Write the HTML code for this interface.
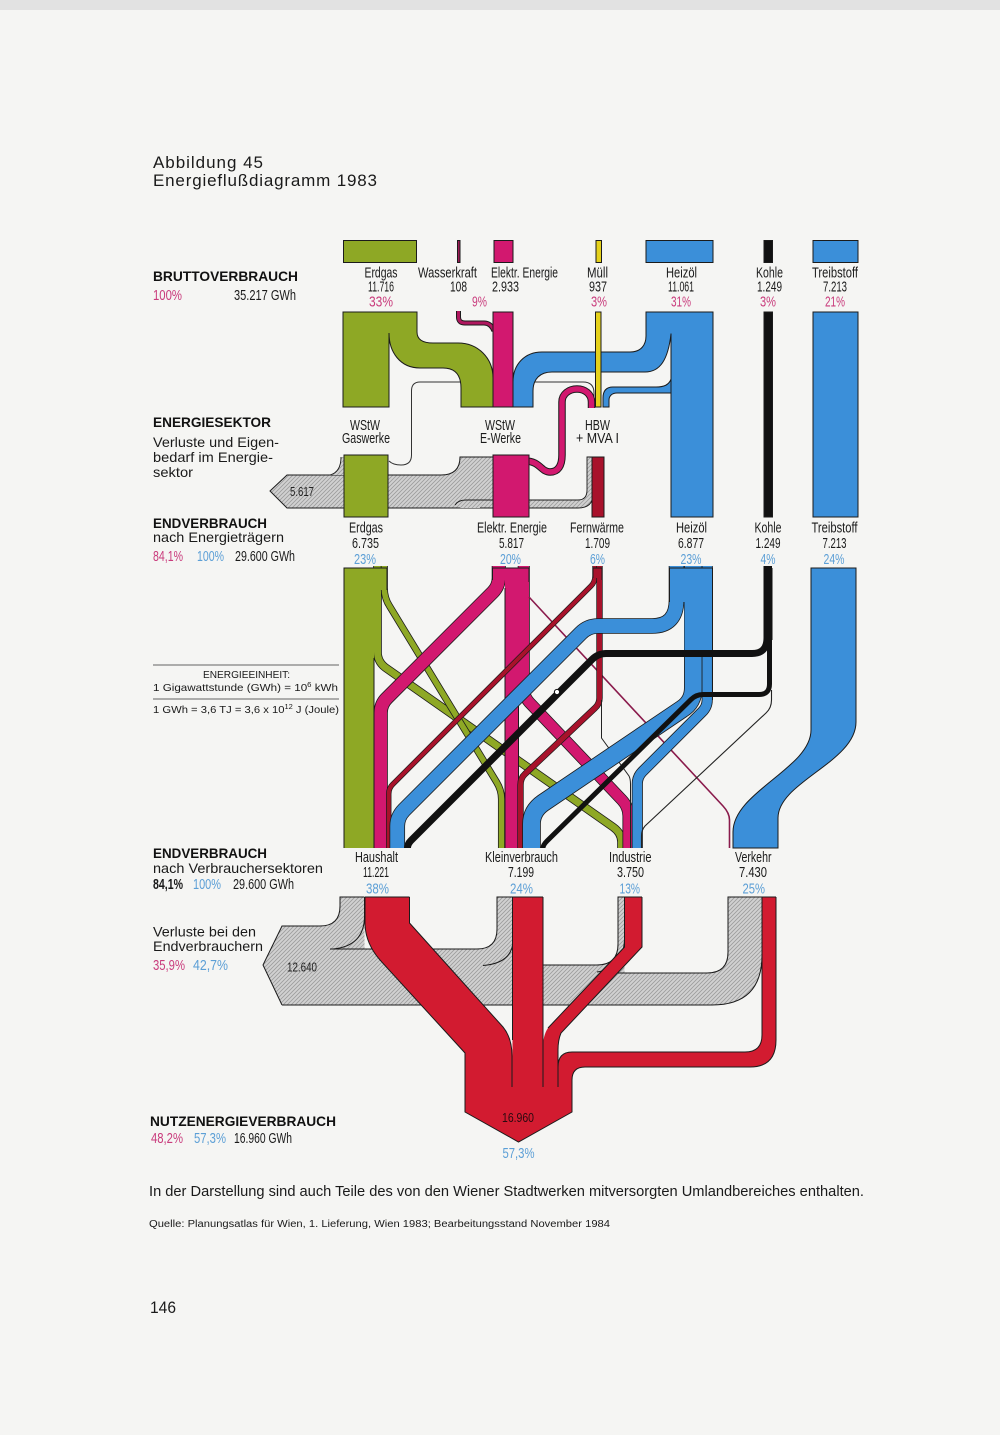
<!DOCTYPE html>
<html><head><meta charset="utf-8"><style>
html,body{margin:0;padding:0;background:#f5f5f3;}
svg{display:block;}
.t{font-family:"Liberation Sans Narrow","Liberation Sans",Arial,sans-serif;font-size:14.5px;fill:#1a1a1a;}
.s{font-family:"Liberation Sans",Arial,sans-serif;font-size:14px;fill:#1a1a1a;}
.b{font-family:"Liberation Sans",Arial,sans-serif;font-weight:bold;font-size:14px;fill:#111;}
.pk{fill:#c93b7c;}
.lb{fill:#5c9fd6;}
</style></head><body>
<svg width="1000" height="1435" viewBox="0 0 1000 1435" xmlns="http://www.w3.org/2000/svg">
<defs>
<pattern id="h" width="4" height="4" patternUnits="userSpaceOnUse"><rect width="4" height="4" fill="#d1d1d1"/><path d="M-1,1 L1,-1 M0,4 L4,0 M3,5 L5,3" stroke="#9c9c9c" stroke-width="0.8"/></pattern>
<path id="gKV" d="M384.3,566 V588 Q384.3,598 389.5,606 L496.5,782 Q501.5,790 501.5,799 V848"/>
<path id="gIn" d="M377.5,566 V652 Q377.5,662 386,668 L613,827 Q621.5,833 621.5,842 V848"/>
<path id="mHa" d="M498.75,566 V578 Q498.75,586 493,592 L387,698 Q380.75,704 380.75,713 V848"/>
<path id="mIn" d="M523.75,566 V688 Q523.75,696 529,702 L622,800 Q628.5,807 628.5,816 V848"/>
<path id="rHa" d="M595,566 V576 Q595,582 591,586 L393,784 Q388.75,788 388.75,794 V848"/>
<path id="rKV" d="M599.5,566 V698 Q599.5,704 595,708 L525,774 Q520.5,778 520.5,785 V848"/>
<path id="bHa" d="M676.5,566 V600 Q676.5,626 652,626 H598 Q588,626 581,633 L404,810 Q397.25,817 397.25,826 V848"/>
<path id="bKV" d="M693.3,566 V688 Q693.3,702 682,709 L543,803 Q531.5,811 531.5,824 V848"/>
<path id="bIn" d="M707.2,566 V700 Q707.2,707 702,712 L642,772 Q637.3,777 637.3,784 V848"/>
<path id="kHa" d="M767,566 V638 Q767,653.5 752,653.5 H606 Q598,653.5 592,659.5 L411,840.5 Q407.5,844 407.5,848"/>
<path id="kKV" d="M769.5,566 V684 Q769.5,694.5 759,694.5 H703 Q696,694.5 691,699.5 L547,841 Q543,845 543,848"/>
<path id="wk" d="M458.5,311 V317 Q458.5,323 465,323 H484 Q491,323 494,331"/>
<path id="tube" d="M525,461 C540,461 541,472 550,472 C558,472 562,466 562,455 V402 C562,394 569,389 577,389 C585,389 591.5,394 591.5,402 V408"/>
</defs>

<rect x="0" y="0" width="1000" height="10" fill="#e2e2e2"/>

<!-- Title -->
<text class="s" x="153" y="168" style="font-size:17px" textLength="110">Abbildung 45</text>
<text class="s" x="153" y="186" style="font-size:17px" textLength="224">Energieflußdiagramm 1983</text>

<!-- Left labels -->
<text class="b" x="153" y="281" textLength="145" lengthAdjust="spacingAndGlyphs">BRUTTOVERBRAUCH</text>
<text class="t pk" x="153" y="300" textLength="29" lengthAdjust="spacingAndGlyphs">100%</text>
<text class="t" x="234" y="300" textLength="62" lengthAdjust="spacingAndGlyphs">35.217 GWh</text>

<text class="b" x="153" y="427" textLength="118" lengthAdjust="spacingAndGlyphs">ENERGIESEKTOR</text>
<text class="s" x="153" y="447" textLength="126" lengthAdjust="spacingAndGlyphs">Verluste und Eigen-</text>
<text class="s" x="153" y="462" textLength="120" lengthAdjust="spacingAndGlyphs">bedarf im Energie-</text>
<text class="s" x="153" y="477" textLength="40" lengthAdjust="spacingAndGlyphs">sektor</text>

<text class="b" x="153" y="528" textLength="114" lengthAdjust="spacingAndGlyphs">ENDVERBRAUCH</text>
<text class="s" x="153" y="542" textLength="131" lengthAdjust="spacingAndGlyphs">nach Energieträgern</text>
<text class="t pk" x="153" y="561" textLength="30" lengthAdjust="spacingAndGlyphs">84,1%</text>
<text class="t lb" x="197" y="561" textLength="27" lengthAdjust="spacingAndGlyphs">100%</text>
<text class="t" x="235" y="561" textLength="60" lengthAdjust="spacingAndGlyphs">29.600 GWh</text>

<line x1="153" y1="665" x2="339" y2="665" stroke="#333" stroke-width="0.8"/>
<text class="s" x="203" y="678" style="font-size:10.5px" textLength="87" lengthAdjust="spacingAndGlyphs">ENERGIEEINHEIT:</text>
<text class="s" x="153" y="691" style="font-size:10.5px" textLength="185" lengthAdjust="spacingAndGlyphs">1 Gigawattstunde (GWh) = 10<tspan dy="-4" style="font-size:7px">6</tspan><tspan dy="4"> kWh</tspan></text>
<line x1="153" y1="699" x2="339" y2="699" stroke="#333" stroke-width="0.8"/>
<text class="s" x="153" y="713" style="font-size:10.5px" textLength="186" lengthAdjust="spacingAndGlyphs">1 GWh = 3,6 TJ = 3,6 x 10<tspan dy="-4" style="font-size:7px">12</tspan><tspan dy="4"> J (Joule)</tspan></text>

<text class="b" x="153" y="858" textLength="114" lengthAdjust="spacingAndGlyphs">ENDVERBRAUCH</text>
<text class="s" x="153" y="873" textLength="170" lengthAdjust="spacingAndGlyphs">nach Verbrauchersektoren</text>
<text class="t" x="153" y="889" font-weight="bold" textLength="30" lengthAdjust="spacingAndGlyphs">84,1%</text>
<text class="t lb" x="193" y="889" textLength="28" lengthAdjust="spacingAndGlyphs">100%</text>
<text class="t" x="233" y="889" textLength="61" lengthAdjust="spacingAndGlyphs">29.600 GWh</text>

<text class="s" x="153" y="936.5" textLength="103" lengthAdjust="spacingAndGlyphs">Verluste bei den</text>
<text class="s" x="153" y="951" textLength="110" lengthAdjust="spacingAndGlyphs">Endverbrauchern</text>
<text class="t pk" x="153" y="970" textLength="32" lengthAdjust="spacingAndGlyphs">35,9%</text>
<text class="t lb" x="193" y="970" textLength="35" lengthAdjust="spacingAndGlyphs">42,7%</text>

<text class="b" x="150" y="1126" textLength="186" lengthAdjust="spacingAndGlyphs">NUTZENERGIEVERBRAUCH</text>
<text class="t pk" x="151" y="1143" textLength="32" lengthAdjust="spacingAndGlyphs">48,2%</text>
<text class="t lb" x="194" y="1143" textLength="32" lengthAdjust="spacingAndGlyphs">57,3%</text>
<text class="t" x="234" y="1143" textLength="58" lengthAdjust="spacingAndGlyphs">16.960 GWh</text>

<!-- Legend boxes -->
<g stroke="#1b1b1b" stroke-width="1">
<rect x="343.5" y="240.5" width="73" height="22" fill="#8ea825"/>
<rect x="457.5" y="240.5" width="2.5" height="22" fill="#9c1a55"/>
<rect x="494" y="240.5" width="19" height="22" fill="#d2186f"/>
<rect x="596" y="240.5" width="5.5" height="22" fill="#e5d11b"/>
<rect x="646" y="240.5" width="67" height="22" fill="#3b8fd9"/>
<rect x="764" y="240.5" width="8.5" height="22" fill="#111"/>
<rect x="813" y="240.5" width="45" height="22" fill="#3b8fd9"/>
</g>

<!-- Top labels -->
<g class="t">
<text x="364.5" y="277.5" textLength="33" lengthAdjust="spacingAndGlyphs">Erdgas</text>
<text x="418" y="277.5" textLength="59" lengthAdjust="spacingAndGlyphs">Wasserkraft</text>
<text x="491" y="277.5" textLength="67" lengthAdjust="spacingAndGlyphs">Elektr. Energie</text>
<text x="587" y="277.5" textLength="21" lengthAdjust="spacingAndGlyphs">Müll</text>
<text x="666" y="277.5" textLength="31" lengthAdjust="spacingAndGlyphs">Heizöl</text>
<text x="756" y="277.5" textLength="27" lengthAdjust="spacingAndGlyphs">Kohle</text>
<text x="812" y="277.5" textLength="46" lengthAdjust="spacingAndGlyphs">Treibstoff</text>
<text x="368" y="291.5" textLength="26" lengthAdjust="spacingAndGlyphs">11.716</text>
<text x="450" y="291.5" textLength="17" lengthAdjust="spacingAndGlyphs">108</text>
<text x="492" y="291.5" textLength="27" lengthAdjust="spacingAndGlyphs">2.933</text>
<text x="589" y="291.5" textLength="18" lengthAdjust="spacingAndGlyphs">937</text>
<text x="668" y="291.5" textLength="26" lengthAdjust="spacingAndGlyphs">11.061</text>
<text x="757" y="291.5" textLength="25" lengthAdjust="spacingAndGlyphs">1.249</text>
<text x="823" y="291.5" textLength="24" lengthAdjust="spacingAndGlyphs">7.213</text>
</g>
<g class="t pk">
<text x="369" y="306.5" textLength="24" lengthAdjust="spacingAndGlyphs">33%</text>
<text x="472" y="306.5" textLength="15" lengthAdjust="spacingAndGlyphs">9%</text>
<text x="591" y="306.5" textLength="16" lengthAdjust="spacingAndGlyphs">3%</text>
<text x="671" y="306.5" textLength="20" lengthAdjust="spacingAndGlyphs">31%</text>
<text x="760" y="306.5" textLength="16" lengthAdjust="spacingAndGlyphs">3%</text>
<text x="825" y="306.5" textLength="20" lengthAdjust="spacingAndGlyphs">21%</text>
</g>

<!-- Energy sector upper flows -->
<g fill="none" stroke="#333" stroke-width="1">
<path d="M461,382 H420 Q411.5,382 411.5,391 V455 Q411.5,465 401,465 Q393,465 389,461"/>
<path d="M533,382 H583 Q594,382 594,393 V407"/>
</g>
<g stroke="#1b1b1b" stroke-width="1">
<path d="M343,312 H417 V332 C417,340 423,343 433,343 H458 C478,343 493,358 493,378 V407 H461 V388 C461,375 455,368 443,368 H420 C400,368 389,352 389,333 V407 H343 Z" fill="#8ea825"/>
</g>
<use href="#wk" fill="none" stroke="#1b1b1b" stroke-width="5"/>
<use href="#wk" fill="none" stroke="#b0175f" stroke-width="3"/>
<g stroke="#1b1b1b" stroke-width="1">
<rect x="493" y="312" width="20" height="95" fill="#d2186f"/>
<rect x="671" y="312" width="42" height="205" fill="#3b8fd9"/>
<path d="M646,312 H671 V334 C668,360 660,372 645,372 H552 C540,372 533,379 533,391 V407 H513 V382 C513,364 525,352 542,352 H630 C641,352 646,345 646,336 Z" fill="#3b8fd9"/>
</g>
<rect x="647" y="312.5" width="65.5" height="21" fill="#3b8fd9"/>
<g stroke="#1b1b1b" stroke-width="1">
<path d="M671,379 C669,385 664,387 656,387 H613 C606,387 603,391 603,398 V407 H609 V400 C609,396 612,393 617,393 H671 Z" fill="#3b8fd9"/>
<rect x="595.5" y="312" width="5.5" height="95" fill="#e5d11b"/>
<rect x="764" y="312" width="8.5" height="205" fill="#111"/>
<rect x="813" y="312" width="45" height="205" fill="#3b8fd9"/>
</g>

<!-- Energy sector labels -->
<g class="t">
<text x="350" y="430" textLength="30" lengthAdjust="spacingAndGlyphs">WStW</text>
<text x="342" y="443" textLength="48" lengthAdjust="spacingAndGlyphs">Gaswerke</text>
<text x="485" y="430" textLength="30" lengthAdjust="spacingAndGlyphs">WStW</text>
<text x="480" y="443" textLength="41" lengthAdjust="spacingAndGlyphs">E-Werke</text>
<text x="585" y="430" textLength="25" lengthAdjust="spacingAndGlyphs">HBW</text>
<text x="576" y="443" textLength="43" lengthAdjust="spacingAndGlyphs">+ MVA I</text>
</g>

<!-- Energy sector losses -->
<path d="M270,491 L287,475 H441 Q460,475 460,457 H494 V508 H287 Z" fill="url(#h)" stroke="#1b1b1b" stroke-width="1"/>
<path d="M460,500 H578 Q587,500 587,490 V457 H593 V494 Q593,508 578,508 H460 Z" fill="url(#h)"/>
<path d="M455,505 Q458,500 466,500 H578 Q587,500 587,490 V457 H593 V494 Q593,508 578,508 H480" fill="none" stroke="#1b1b1b" stroke-width="0.9"/>
<path d="M341,457 H344 V475 H330 Q341,472 341,457 Z" fill="url(#h)"/>
<path d="M341,457 Q341,472 330,475" fill="none" stroke="#1b1b1b" stroke-width="0.9"/>
<use href="#tube" fill="none" stroke="#1b1b1b" stroke-width="7.5"/>
<use href="#tube" fill="none" stroke="#d2186f" stroke-width="5.5"/>
<g stroke="#1b1b1b" stroke-width="1">
<rect x="344" y="455" width="44" height="62" fill="#8ea825"/>
<rect x="493" y="455" width="36" height="62" fill="#d2186f"/>
<rect x="592" y="457" width="12" height="60" fill="#a8122b"/>
</g>
<text class="t" x="290" y="496" style="font-size:13px;fill:#222" textLength="24" lengthAdjust="spacingAndGlyphs">5.617</text>

<!-- Endverbrauch Energieträger labels -->
<g class="t">
<text x="349" y="532.5" textLength="34" lengthAdjust="spacingAndGlyphs">Erdgas</text>
<text x="352" y="548" textLength="27" lengthAdjust="spacingAndGlyphs">6.735</text>
<text x="477" y="532.5" textLength="70" lengthAdjust="spacingAndGlyphs">Elektr. Energie</text>
<text x="499" y="548" textLength="25" lengthAdjust="spacingAndGlyphs">5.817</text>
<text x="570" y="532.5" textLength="54" lengthAdjust="spacingAndGlyphs">Fernwärme</text>
<text x="585" y="548" textLength="25" lengthAdjust="spacingAndGlyphs">1.709</text>
<text x="676" y="532.5" textLength="31" lengthAdjust="spacingAndGlyphs">Heizöl</text>
<text x="678" y="548" textLength="26" lengthAdjust="spacingAndGlyphs">6.877</text>
<text x="754.5" y="532.5" textLength="27" lengthAdjust="spacingAndGlyphs">Kohle</text>
<text x="755.5" y="548" textLength="25" lengthAdjust="spacingAndGlyphs">1.249</text>
<text x="811.5" y="532.5" textLength="46" lengthAdjust="spacingAndGlyphs">Treibstoff</text>
<text x="822.5" y="548" textLength="24" lengthAdjust="spacingAndGlyphs">7.213</text>
</g>
<g class="t lb">
<text x="354" y="564" textLength="22" lengthAdjust="spacingAndGlyphs">23%</text>
<text x="500" y="564" textLength="21" lengthAdjust="spacingAndGlyphs">20%</text>
<text x="590" y="564" textLength="15" lengthAdjust="spacingAndGlyphs">6%</text>
<text x="680.5" y="564" textLength="21" lengthAdjust="spacingAndGlyphs">23%</text>
<text x="760.5" y="564" textLength="15" lengthAdjust="spacingAndGlyphs">4%</text>
<text x="823.5" y="564" textLength="21" lengthAdjust="spacingAndGlyphs">24%</text>
</g>

<!-- Endverbrauch flows -->
<g fill="none">
<use href="#gIn" stroke="#1b1b1b" stroke-width="8.6"/>
<use href="#gIn" stroke="#8ea825" stroke-width="7"/>
<use href="#gKV" stroke="#1b1b1b" stroke-width="7.1"/>
<use href="#gKV" stroke="#8ea825" stroke-width="5.5"/>
</g>
<rect x="344" y="568" width="43" height="22" fill="#8ea825"/>
<rect x="344" y="568" width="30" height="280" fill="#8ea825"/>
<path d="M344,848 V568 H387 V590 M374,658 V848" fill="none" stroke="#1b1b1b" stroke-width="1"/>
<g fill="none">
<use href="#mHa" stroke="#1b1b1b" stroke-width="14.1"/>
<use href="#mHa" stroke="#d2186f" stroke-width="12.5"/>
<use href="#mIn" stroke="#1b1b1b" stroke-width="12.1"/>
<use href="#mIn" stroke="#d2186f" stroke-width="10.5"/>
</g>
<rect x="492.5" y="568" width="36.5" height="12" fill="#d2186f"/>
<rect x="505" y="568" width="13.8" height="280" fill="#d2186f"/>
<path d="M492.5,580 V568 H529 V582 M505,588 V848 M518.5,694 V848" fill="none" stroke="#1b1b1b" stroke-width="1"/>
<path d="M529,597 L723,806 Q729.5,813 729.5,820 V848" fill="none" stroke="#8a1b4c" stroke-width="1.6"/>
<g fill="none">
<use href="#rHa" stroke="#1b1b1b" stroke-width="5.4"/>
<use href="#rHa" stroke="#a8122b" stroke-width="4"/>
<use href="#rKV" stroke="#1b1b1b" stroke-width="6.4"/>
<use href="#rKV" stroke="#a8122b" stroke-width="5"/>
</g>
<rect x="593" y="568" width="9" height="10" fill="#a8122b"/>
<path d="M593,578 V568 H602 V580" fill="none" stroke="#1b1b1b" stroke-width="1"/>
<path d="M601.5,700 V738 L629,776 Q630.5,779 630.5,784 V848" fill="none" stroke="#222" stroke-width="1"/>
<g fill="none">
<use href="#bHa" stroke="#1b1b1b" stroke-width="15.6"/>
<use href="#bHa" stroke="#3b8fd9" stroke-width="14"/>
<use href="#bKV" stroke="#1b1b1b" stroke-width="18.6"/>
<use href="#bKV" stroke="#3b8fd9" stroke-width="17"/>
<use href="#bIn" stroke="#1b1b1b" stroke-width="11.1"/>
<use href="#bIn" stroke="#3b8fd9" stroke-width="9.5"/>
</g>
<rect x="669.5" y="568" width="43" height="34" fill="#3b8fd9"/>
<rect x="684.5" y="600" width="28" height="56" fill="#3b8fd9"/>
<path d="M669.5,602 V568 H712.5 V700" fill="none" stroke="#1b1b1b" stroke-width="1"/>
<path d="M811,568 H856 V722 C856,762 778,782 778,818 V848 H733 V832 C733,792 811,768 811,730 Z" fill="#3b8fd9" stroke="#1b1b1b" stroke-width="1"/>
<g fill="none">
<use href="#kHa" stroke="#111" stroke-width="7"/>
<use href="#kKV" stroke="#111" stroke-width="5"/>
</g>
<rect x="763.5" y="568" width="9" height="72" fill="#111"/>
<path d="M771.5,690 V700 Q771.5,708 766,713 L645,826 Q641.5,830 641.5,836 V848" fill="none" stroke="#222" stroke-width="1.1"/>
<circle cx="557" cy="692" r="2.6" fill="#fff" stroke="#111" stroke-width="1"/>

<!-- Verbrauchersektoren labels -->
<g class="t">
<text x="355" y="862" textLength="43" lengthAdjust="spacingAndGlyphs">Haushalt</text>
<text x="363" y="877" textLength="26" lengthAdjust="spacingAndGlyphs">11.221</text>
<text x="485" y="862" textLength="73" lengthAdjust="spacingAndGlyphs">Kleinverbrauch</text>
<text x="508" y="877" textLength="26" lengthAdjust="spacingAndGlyphs">7.199</text>
<text x="609" y="862" textLength="42.5" lengthAdjust="spacingAndGlyphs">Industrie</text>
<text x="617" y="877" textLength="27" lengthAdjust="spacingAndGlyphs">3.750</text>
<text x="735" y="862" textLength="36.5" lengthAdjust="spacingAndGlyphs">Verkehr</text>
<text x="739" y="877" textLength="28" lengthAdjust="spacingAndGlyphs">7.430</text>
</g>
<g class="t lb">
<text x="366" y="893.5" textLength="23" lengthAdjust="spacingAndGlyphs">38%</text>
<text x="510" y="893.5" textLength="23" lengthAdjust="spacingAndGlyphs">24%</text>
<text x="619.5" y="893.5" textLength="20.5" lengthAdjust="spacingAndGlyphs">13%</text>
<text x="742.5" y="893.5" textLength="22.5" lengthAdjust="spacingAndGlyphs">25%</text>
</g>

<!-- Loss band bottom -->
<path d="M263,965 L282,926 H320 Q340,926 340,906 V897 H364.5 V949 H477 Q497,949 497,929 V897 H513 V965 H597 Q618,965 618,944 V897 H624.5 V973 H707 Q728,973 728,952 V897 H762 V955 Q762,1005 712,1005 H282 Z" fill="url(#h)"/>
<g fill="none" stroke="#1b1b1b" stroke-width="1">
<path d="M282,1005 L263,965 L282,926 H320 Q340,926 340,906 V897 H364.5"/>
<path d="M364.5,897 V916 Q364.5,946 333,949"/>
<path d="M330,949 H477 Q497,949 497,929 V897 H513"/>
<path d="M513,940 Q513,963 483,965.5"/>
<path d="M540,965 H597 Q618,965 618,944 V897 H624.5"/>
<path d="M624.5,940 Q623,968 597,972"/>
<path d="M612,973 H707 Q728,973 728,952 V897 H762 V955 Q762,1005 712,1005 H282"/>
</g>
<text class="t" x="287" y="971.5" style="font-size:13px;fill:#222" textLength="30" lengthAdjust="spacingAndGlyphs">12.640</text>

<!-- Red useful energy -->
<g fill="#d21b30">
<path d="M365,897 H409.5 V923 L503,1027 Q512,1038 512,1056 V1092 H465 V1053 L380,960 Q366,944 365,925 Z"/>
<path d="M512.5,897 H543 V1092 H512.5 Z"/>
<path d="M624.5,897 H642 V947 L561,1033 Q558,1040 558,1050 V1092 H542.5 V1050 Q543,1035 548,1028 L624.5,947 Z"/>
<path d="M762,897 H776 V1040 Q776,1067 750,1067 H585 Q572,1067 572,1080 V1092 H558 V1067 Q558,1052 572,1052 H745 Q762,1052 762,1035 Z"/>
<path d="M465,1086 H572 V1112 L518.5,1142 L465,1112 Z"/>
</g>
<g fill="none" stroke="#1b1b1b" stroke-width="1">
<path d="M365,897 H409.5 M512.5,897 H543 M624.5,897 H642 M762,897 H776"/>
<path d="M365,897 V925 Q366,944 380,960 L465,1053 V1112 L518.5,1142 L572,1112 V1080 Q572,1067 585,1067 H750 Q776,1067 776,1040 V897"/>
<path d="M409.5,897 V923 L503,1027 Q512,1038 512,1056 V1087"/>
<path d="M512.5,897 V1040"/>
<path d="M543,897 V1087"/>
<path d="M624.5,897 V947 L548,1028"/>
<path d="M642,897 V947 L561,1033 Q558,1040 558,1050 V1087"/>
<path d="M762,897 V1035 Q762,1052 745,1052 H572 Q558,1052 558,1067"/>
</g>
<text class="t" x="502" y="1122" style="font-size:13px;fill:#2a0a10" textLength="32" lengthAdjust="spacingAndGlyphs">16.960</text>
<text class="t lb" x="502.5" y="1158" textLength="32" lengthAdjust="spacingAndGlyphs">57,3%</text>

<!-- Footer -->
<text class="t" x="149" y="1196" style="font-size:14.5px" textLength="715" lengthAdjust="spacingAndGlyphs">In der Darstellung sind auch Teile des von den Wiener Stadtwerken mitversorgten Umlandbereiches enthalten.</text>
<text class="s" x="149" y="1227" style="font-size:10px" textLength="461" lengthAdjust="spacingAndGlyphs">Quelle: Planungsatlas für Wien, 1. Lieferung, Wien 1983; Bearbeitungsstand November 1984</text>
<text class="s" x="150" y="1313" style="font-size:17px" textLength="26" lengthAdjust="spacingAndGlyphs">146</text>
</svg>
</body></html>
